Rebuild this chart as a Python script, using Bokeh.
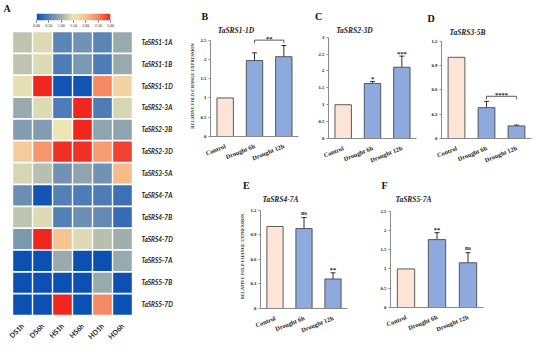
import math
import numpy as np
from bokeh.plotting import figure
from bokeh.layouts import row, column
from bokeh.models import (FactorRange, Range1d, LinearColorMapper, ColumnDataSource,
                          Whisker, TeeHead, Title, FixedTicker, NumeralTickFormatter,
                          CustomJSTickFormatter)
from bokeh.transform import dodge
from bokeh.embed import file_html
from bokeh.resources import INLINE
from bokeh.core.properties import value

# ---------------- Panel A: heat map data ----------------
conditions = ["DS1h", "DS6h", "HS1h", "HS6h", "HD1h", "HD6h"]
genes = ["TaSRS1-1A", "TaSRS1-1B", "TaSRS1-1D", "TaSRS2-3A", "TaSRS2-3B", "TaSRS2-3D",
         "TaSRS3-5A", "TaSRS4-7A", "TaSRS4-7B", "TaSRS4-7D", "TaSRS5-7A", "TaSRS5-7B", "TaSRS5-7D"]
row_1_1A = [1.20, 1.40, 0.55, 0.70, 0.55, 0.95]
row_1_1B = [1.20, 1.40, 0.45, 0.75, 0.45, 0.95]
row_1_1D = [1.45, 3.00, 0.05, 0.05, 2.45, 1.75]
row_2_3A = [0.95, 1.40, 0.45, 3.00, 0.45, 1.35]
row_2_3B = [0.80, 0.80, 1.50, 3.00, 0.90, 0.90]
row_2_3D = [1.85, 2.35, 2.95, 2.95, 2.30, 2.85]
row_3_5A = [1.35, 1.15, 0.70, 0.90, 0.70, 2.05]
row_4_7A = [0.65, 0.05, 0.50, 0.45, 0.45, 0.35]
row_4_7B = [1.20, 1.40, 0.50, 0.65, 0.60, 0.30]
row_4_7D = [0.75, 3.00, 1.95, 1.40, 1.15, 1.00]
row_5_7A = [0.02, 0.02, 0.95, 0.02, 0.02, 0.95]
row_5_7B = [0.02, 0.02, 0.02, 0.02, 0.95, 0.02]
row_5_7D = [0.02, 0.02, 3.00, 0.02, 2.45, 0.02]
heat_rows = [row_1_1A, row_1_1B, row_1_1D, row_2_3A, row_2_3B, row_2_3D, row_3_5A,
             row_4_7A, row_4_7B, row_4_7D, row_5_7A, row_5_7B, row_5_7D]
scale_ticks = [0.0, 0.5, 1.0, 1.5, 2.0, 2.5, 3.0]

# ---------------- Panels B-F: qRT-PCR bars ----------------
treatments = ["Control", "Drought 6h", "Drought 12h"]
b_mean = [1.00, 1.97, 2.07]
b_err = [0.0, 0.20, 0.29]
b_sig = ["", "", ""]
b_bracket = ("Drought 6h", "Drought 12h", 2.50, "**")

c_mean = [1.00, 1.63, 2.11]
c_err = [0.0, 0.06, 0.33]
c_sig = ["", "*", "***"]

d_mean = [1.00, 0.38, 0.155]
d_err = [0.0, 0.078, 0.01]
d_sig = ["", "", ""]
d_bracket = ("Drought 6h", "Drought 12h", 0.52, "****")

e_mean = [1.00, 0.975, 0.36]
e_err = [0.0, 0.135, 0.075]
e_sig = ["", "ns", "**"]

f_mean = [1.00, 1.76, 1.16]
f_err = [0.0, 0.18, 0.26]
f_sig = ["", "**", "ns"]

SERIF = "Liberation Serif"
SANS = "Lato"
AXIS_GREY = "#8a8a8a"
TXT = "#222222"
CONTROL_FILL = "#FCE4D6"
DROUGHT_FILL = "#8EA9DE"
BAR_LINE = "#4a4a4a"
Y_TITLE = "RELATIVE FOLD CHANGE EXPRESSION"

# palette anchors for the heat map scale
anchors = [(0.0, "#0A4FB3"), (0.5, "#5581B6"), (1.0, "#A0AEAD"), (1.5, "#ECE6B4"),
           (2.0, "#F7C090"), (2.5, "#F5845F"), (3.0, "#F0261F")]


def hex2rgb(h):
    return tuple(int(h[i:i + 2], 16) for i in (1, 3, 5))


def build_palette(n=256):
    out = []
    for k in range(n):
        v = 3.0 * k / (n - 1)
        for (v0, c0), (v1, c1) in zip(anchors[:-1], anchors[1:]):
            if v0 <= v <= v1:
                t = (v - v0) / (v1 - v0)
                a, b = hex2rgb(c0), hex2rgb(c1)
                rgb = [round(a[i] + (b[i] - a[i]) * t) for i in range(3)]
                out.append("#%02x%02x%02x" % tuple(rgb))
                break
    return out


palette = build_palette()
mapper = LinearColorMapper(palette=palette, low=0, high=3)


def letter_title(p, letter, dx, standoff=1):
    p.title.text = letter
    p.title.align = "left"
    p.title.offset = dx
    p.title.standoff = standoff
    p.title.text_font = SERIF
    p.title.text_font_style = "bold"
    p.title.text_font_size = "10px"
    p.title.text_color = "#111111"


# ---- colour scale strip
cb = figure(x_range=Range1d(0, 3), y_range=Range1d(0, 1), frame_width=74, frame_height=7,
            min_border_left=36, min_border_right=76, min_border_top=12, min_border_bottom=9,
            toolbar_location=None, output_backend="svg", frame_align=False)
cb.image(image=[np.array([np.linspace(0, 3, 256)])], x=0, y=0, dw=3, dh=1, color_mapper=mapper)
cb.yaxis.visible = False
cb.xgrid.visible = False
cb.ygrid.visible = False
cb.outline_line_color = None
cxa = cb.xaxis[0]
cxa.ticker = FixedTicker(ticks=scale_ticks)
cxa.formatter = NumeralTickFormatter(format="0.00")
cxa.axis_line_color = None
cxa.major_tick_line_color = "#666666"
cxa.major_tick_out = 2
cxa.major_tick_in = 0
cxa.minor_tick_line_color = None
cxa.major_label_standoff = 1
cxa.major_label_text_font = SERIF
cxa.major_label_text_font_size = "4px"
cxa.major_label_text_color = TXT
letter_title(cb, "A", -33, standoff=0)

# ---- heat map
hx, hy, hv = [], [], []
for g, vals in zip(genes, heat_rows):
    for c, v in zip(conditions, vals):
        hx.append(c)
        hy.append(g)
        hv.append(v)
hsrc = ColumnDataSource(dict(c=hx, g=hy, v=hv))
hm = figure(x_range=FactorRange(*conditions), y_range=FactorRange(*reversed(genes)),
            frame_width=120, frame_height=284, min_border_left=12, min_border_right=54,
            min_border_top=2, min_border_bottom=25, y_axis_location="right",
            toolbar_location=None, output_backend="svg", frame_align=False)
hm.rect(x="c", y="g", width=0.93, height=0.92, source=hsrc,
        fill_color={"field": "v", "transform": mapper}, line_color=None)
hm.xgrid.visible = False
hm.ygrid.visible = False
hm.outline_line_color = None
for ax in (hm.xaxis[0], hm.yaxis[0]):
    ax.axis_line_color = None
    ax.major_tick_line_color = None
    ax.major_label_text_font = SANS
    ax.major_label_text_color = TXT
hya = hm.yaxis[0]
hya.major_label_text_font_style = "bold italic"
hya.major_label_text_font_size = "6.5px"
hya.major_label_standoff = 3
hxa = hm.xaxis[0]
hxa.major_label_text_font_style = "bold"
hxa.major_label_text_font_size = "7px"
hxa.major_label_orientation = math.pi / 4
hxa.major_label_standoff = 3


def bar_panel(letter, title, means, errs, sig, ax_max, y_end, ticks,
              fw, fh, bl, br, bt, bb, t_dx, l_dx, ylabel=False, bracket=None):
    p = figure(x_range=FactorRange(*treatments), y_range=Range1d(0, y_end),
               frame_width=fw, frame_height=fh, min_border_left=bl, min_border_right=br,
               min_border_top=bt, min_border_bottom=bb, toolbar_location=None,
               output_backend="svg", frame_align=False)
    per_px = y_end / fh
    fills = [CONTROL_FILL if t == "Control" else DROUGHT_FILL for t in treatments]
    src = ColumnDataSource(dict(t=treatments, m=means, fill=fills))
    p.vbar(x="t", top="m", width=0.56, source=src, fill_color="fill",
           line_color=BAR_LINE, line_width=0.9)
    wt = [t for t, e in zip(treatments, errs) if e > 0]
    wu = [m + e for m, e in zip(means, errs) if e > 0]
    wl = [m - e for m, e in zip(means, errs) if e > 0]
    wsrc = ColumnDataSource(dict(t=wt, up=wu, lo=wl))
    p.add_layout(Whisker(source=wsrc, base="t", upper="up", lower="lo",
                         line_color="#1a1a1a", line_width=0.9,
                         upper_head=TeeHead(size=5, line_color="#1a1a1a", line_width=0.9),
                         lower_head=TeeHead(size=5, line_color="#1a1a1a", line_width=0.9)))
    st = [t for t, s in zip(treatments, sig) if s]
    sy = [m + e + (3.0 if s.startswith("*") else 4.8) * per_px
          for m, e, s in zip(means, errs, sig) if s]
    ss = [s for s in sig if s]
    if ss:
        p.text(x="t", y="y", text="s", source=ColumnDataSource(dict(t=st, y=sy, s=ss)),
               text_align="center", text_baseline="alphabetic", text_font=value(SERIF),
               text_font_style="bold", text_font_size="6.5px", text_color=TXT)
    if bracket:
        f0, f1, yb, s = bracket
        drop = 3.0 * per_px
        p.segment(x0=[f0], y0=[yb], x1=[f1], y1=[yb], line_color="#333333", line_width=0.8)
        p.segment(x0=[f0, f1], y0=[yb, yb], x1=[f0, f1], y1=[yb - drop, yb - drop],
                  line_color="#333333", line_width=0.8)
        p.text(x=dodge("x", 0.5, range=p.x_range), y="y", text="s",
               source=ColumnDataSource(dict(x=[f0], y=[yb + 1.5 * per_px], s=[s])),
               text_align="center", text_baseline="alphabetic", text_font=value(SERIF),
               text_font_style="bold", text_font_size="6.5px", text_color=TXT)
    p.xgrid.visible = False
    p.ygrid.visible = False
    p.outline_line_color = None
    xa = p.xaxis[0]
    xa.axis_line_color = AXIS_GREY
    xa.major_tick_line_color = None
    xa.major_label_orientation = 0.38
    xa.major_label_standoff = 3
    xa.major_label_text_font = SERIF
    xa.major_label_text_font_style = "bold"
    xa.major_label_text_font_size = "6.3px"
    xa.major_label_text_color = TXT
    ya = p.yaxis[0]
    ya.bounds = (0, ax_max)
    ya.ticker = FixedTicker(ticks=ticks)
    ya.formatter = CustomJSTickFormatter(code="return String(Math.round(tick*10)/10)")
    ya.axis_line_color = AXIS_GREY
    ya.major_tick_line_color = AXIS_GREY
    ya.major_tick_out = 2
    ya.major_tick_in = 0
    ya.minor_tick_line_color = None
    ya.major_label_standoff = 2
    ya.major_label_text_font = SERIF
    ya.major_label_text_font_style = "bold"
    ya.major_label_text_font_size = "4.8px"
    ya.major_label_text_color = TXT
    if ylabel:
        ya.axis_label = Y_TITLE
        ya.axis_label_text_font = SERIF
        ya.axis_label_text_font_style = "bold"
        ya.axis_label_text_font_size = "4.4px"
        ya.axis_label_text_color = TXT
        ya.axis_label_standoff = 3
    # gene title sits next to the frame, the panel letter above it
    p.add_layout(Title(text=title, align="left", offset=t_dx, standoff=2,
                       text_font=SERIF, text_font_style="bold italic",
                       text_font_size="7.5px", text_color=TXT), "above")
    letter_title(p, letter, l_dx, standoff=2)
    return p


tk25 = [0, 0.5, 1, 1.5, 2, 2.5]
tk3 = [0, 0.5, 1, 1.5, 2, 2.5, 3]
tk12 = [0, 0.3, 0.6, 0.9, 1.2]

pB = bar_panel("B", "TaSRS1-1D", b_mean, b_err, b_sig, 2.5, 2.62, tk25,
               88, 101, 22, 9, 35, 40, 7.3, -9, ylabel=True, bracket=b_bracket)
pC = bar_panel("C", "TaSRS2-3D", c_mean, c_err, c_sig, 3.0, 3.05, tk3,
               88, 103, 21, 5, 35, 38, 7.7, -13.5)
pD = bar_panel("D", "TaSRS3-5B", d_mean, d_err, d_sig, 1.2, 1.244, tk12,
               90, 101, 20, 5, 37, 38, 8, -14, bracket=d_bracket)
pE = bar_panel("E", "TaSRS4-7A", e_mean, e_err, e_sig, 1.2, 1.268, tk12,
               87, 104, 74, 13, 22, 37, 2, -17.5, ylabel=True)
pF = bar_panel("F", "TaSRS5-7A", f_mean, f_err, f_sig, 2.5, 2.67, tk25,
               93, 103, 30, 51, 24, 36, 5, -9)

layout = row(column(cb, hm), column(row(pB, pC, pD), row(pE, pF)))

with open("out.html", "w") as fh:
    fh.write(file_html(layout, INLINE))
